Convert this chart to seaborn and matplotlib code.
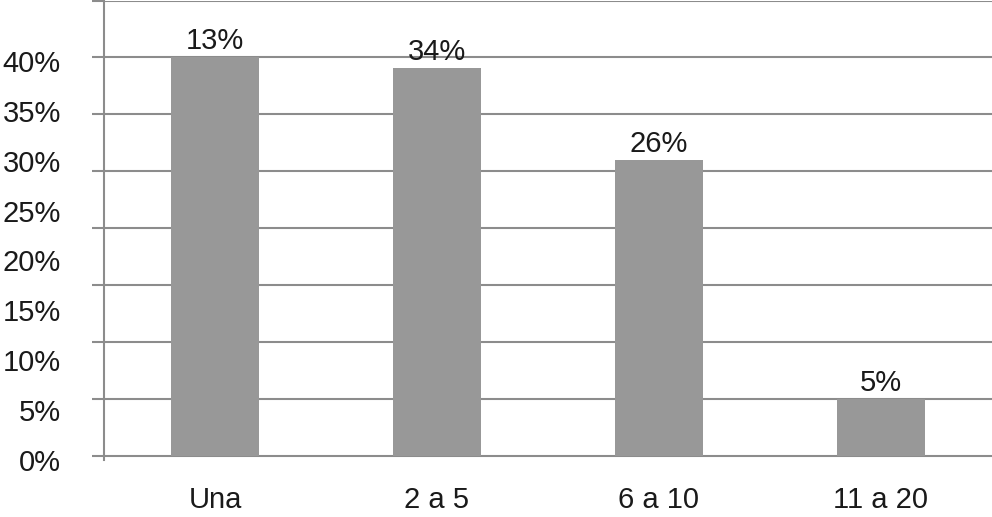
import numpy as np
import pandas as pd
import seaborn as sns
import matplotlib as mpl
import matplotlib.pyplot as plt
from matplotlib.ticker import FixedLocator

# data (bar heights on the 0-40% axis scale, printed labels)
categories = ['Una', '2 a 5', '6 a 10', '11 a 20']
heights = [40.0, 38.9, 29.7, 5.7]
bar_labels = ['13%', '34%', '26%', '5%']
ytick_values = [0, 5, 10, 15, 20, 25, 30, 35, 40]

sns.set_style('white')
plt.rcParams['font.family'] = ['Liberation Sans', 'DejaVu Sans']

grey_bar = '#989898'
grey_line = '#8c8c8c'

df = pd.DataFrame({'cat': categories, 'val': heights})

fig = plt.figure(figsize=(9.92, 5.17), dpi=100)
ax = fig.add_axes([0.1048, 0.1112, 0.8952, 0.8876])

sns.barplot(data=df, x='cat', y='val', color=grey_bar, saturation=1,
            width=0.4, linewidth=0, ax=ax, zorder=3)
ax.bar_label(ax.containers[0], labels=bar_labels, padding=1.5,
             fontsize=21, color='#1a1a1a')

# gridlines are spaced in 7 steps up to 40% in the source chart
step = 40 / 7
ax.set_ylim(0, 8 * step)
ax.set_xlim(-0.5, 3.5)
ax.yaxis.set_minor_locator(FixedLocator([k * step for k in range(9)]))
ax.set_yticks([v - 0.4 for v in ytick_values])
ax.set_yticklabels([f'{v}%' for v in ytick_values])
ax.grid(which='minor', axis='y', color=grey_line, lw=1.5)
ax.set_axisbelow(True)

ax.tick_params(axis='y', which='major', length=0, pad=31, labelsize=21,
               labelcolor='#1a1a1a')
ax.tick_params(axis='y', which='minor', length=8.6, width=1.5,
               color=grey_line, left=True)
ax.tick_params(axis='x', length=0, pad=19, labelsize=21, labelcolor='#1a1a1a')

for s in ['top', 'right', 'bottom']:
    ax.spines[s].set_visible(False)
ax.spines['left'].set_color(grey_line)
ax.spines['left'].set_linewidth(1.5)
ax.set_xlabel('')
ax.set_ylabel('')

fig.savefig('out.png', dpi=100)
